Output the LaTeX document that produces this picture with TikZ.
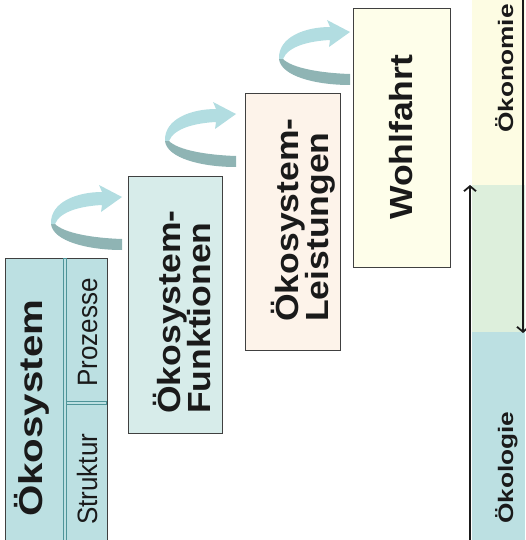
\documentclass[tikz,border=0pt]{standalone}
\usepackage{fontspec}
\setmainfont{Liberation Sans}
\usetikzlibrary{arrows.meta}

\definecolor{ink}{HTML}{1A1A1A}
\definecolor{boxline}{HTML}{404040}
\definecolor{ecofill}{HTML}{BCE0E2}
\definecolor{divline}{HTML}{4F9599}
\definecolor{fktfill}{HTML}{D7ECEA}
\definecolor{lstfill}{HTML}{FDF3EA}
\definecolor{wohlfill}{HTML}{FEFEEA}
\definecolor{bandyellow}{HTML}{FDFCE3}
\definecolor{bandgreen}{HTML}{DDEFDC}
\definecolor{bandblue}{HTML}{BCE0E2}
\definecolor{twistlight}{HTML}{B2DDE1}
\definecolor{twistdark}{HTML}{8FB4B4}

\tikzset{
  stage/.style={draw=boxline, line width=0.8pt, inner sep=0pt, outer sep=0pt},
  divider/.style={draw=divline, fill=ecofill, line width=0.7pt},
  vlabel/.style={rotate=90, inner sep=0pt, anchor=base west, text=ink},
  boldlbl/.style={vlabel, font=\bfseries\fontsize{32}{32}\selectfont, xscale=1.11},
  biglbl/.style={vlabel, font=\bfseries\fontsize{33}{33}\selectfont, xscale=1.22},
  sublbl/.style={vlabel, font=\fontsize{28}{28}\selectfont, xscale=0.93},
  bandlbl/.style={vlabel, font=\bfseries\fontsize{21}{21}\selectfont, xscale=1.25},
  flow/.style={draw=ink, line width=1.8pt, -{Straight Barb[length=5pt,width=12pt]}},
  twist/.pic={
    % lower, shaded half of the turning ribbon
    \fill[twistdark] (-67,27) .. controls (-58,36) and (-30,41) .. (0,42)
      -- (0,53) .. controls (-35,53) and (-69,44) .. (-71,27) -- cycle;
    % upper half with the arrow head
    \fill[twistlight] (-20,-5) -- (-23,-12) -- (0,0) -- (-21,15) -- (-20,8)
      .. controls (-40,9) and (-62,14) .. (-67,27) -- (-71,27)
      .. controls (-72,5) and (-45,-5) .. (-20,-5) -- cycle;
  }
}

\begin{document}
\begin{tikzpicture}[x=1pt, y=-1pt]
\useasboundingbox (0,0) rectangle (525,540);

% economy / ecology band on the right
\fill[bandyellow] (472,0) rectangle (525,185);
\fill[bandgreen] (472,185) rectangle (525,332);
\fill[bandblue] (472,332) rectangle (525,540);
\coordinate (upFrom) at (470,541);
\coordinate (upTo) at (470,185);
\coordinate (downFrom) at (523,-1);
\coordinate (downTo) at (523,333);
\draw[flow] (upFrom) -- (upTo);
\draw[flow] (downFrom) -- (downTo);
\node[bandlbl] (oekon) at (513,133) {Ökonomie};
\node[bandlbl] (oekol) at (513,524) {Ökologie};

% stage boxes
\node[stage, fill=ecofill, minimum width=102pt, minimum height=290pt] (eco) at (56,403) {};
\path[divider] (63.5,258.4) rectangle (66.5,548);
\path[divider] (66.5,401.5) rectangle (106.6,404.5);
\node[stage, fill=fktfill, minimum width=94pt, minimum height=257pt] (fkt) at (175,304.5) {};
\node[stage, fill=lstfill, minimum width=95pt, minimum height=257pt] (lst) at (292.5,221.5) {};
\node[stage, fill=wohlfill, minimum width=97pt, minimum height=259pt] (wohl) at (401.5,138) {};

% labels
\node[biglbl] (ecoT) at (42,517) {Ökosystem};
\node[sublbl] (proz) at (97,387) {Prozesse};
\node[sublbl] (strk) at (97,525) {Struktur};
\node[boldlbl] (fktA) at (180,414) {Ökosystem-};
\node[boldlbl] (fktB) at (210,414) {Funktionen};
\node[boldlbl] (lstA) at (298,322) {Ökosystem-};
\node[boldlbl] (lstB) at (328,322) {Leistungen};
\node[boldlbl] (wohlT) at (412,220) {Wohlfahrt};

% turning arrows between the stages
\pic at (122,197) {twist};
\pic at (236,114) {twist};
\pic at (350,32) {twist};
\end{tikzpicture}
\end{document}
